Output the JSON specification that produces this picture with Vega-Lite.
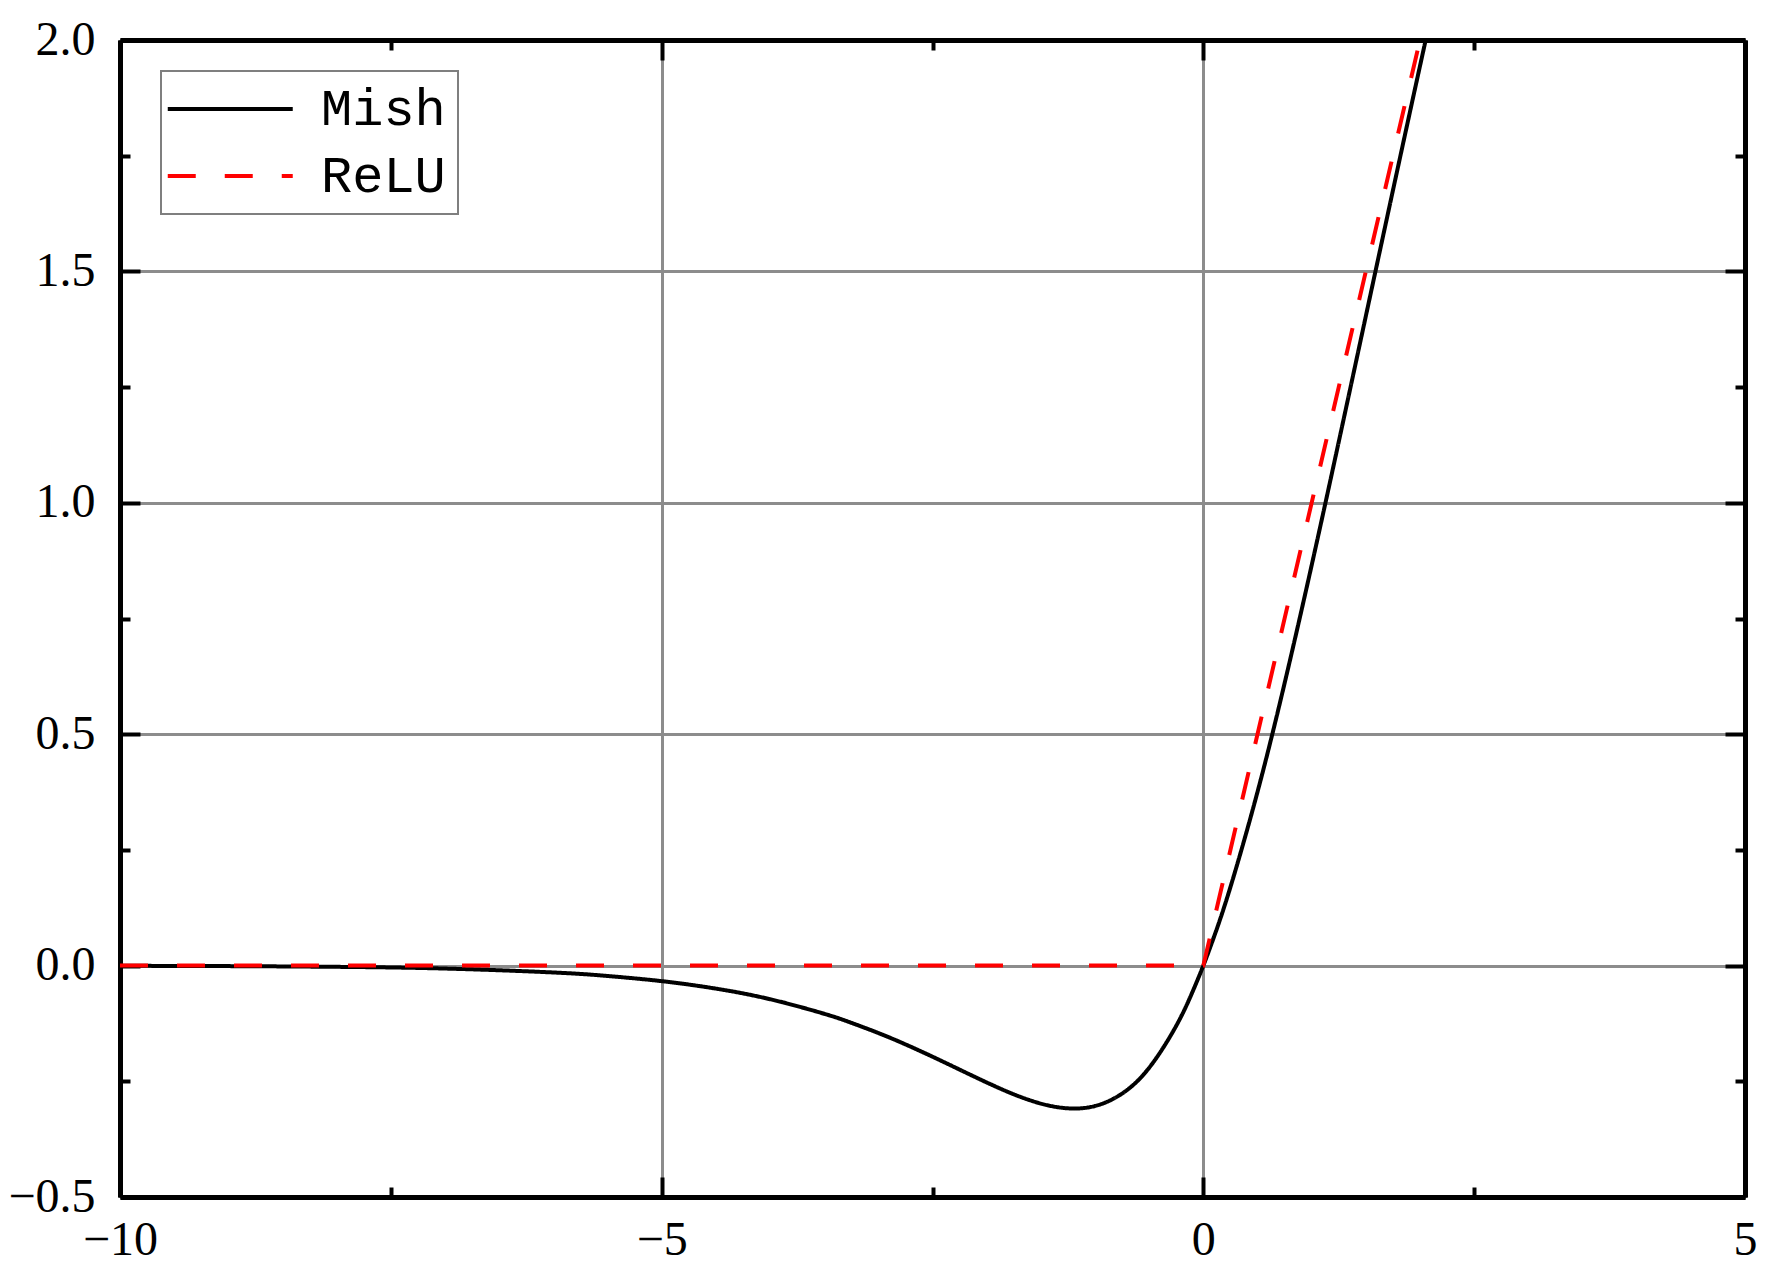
{
  "$schema": "https://vega.github.io/schema/vega-lite/v6.json",
  "width": 1625,
  "height": 1157,
  "autosize": "none",
  "padding": {"left": 120, "top": 40, "right": 32, "bottom": 79},
  "background": "white",
  "config": {
    "view": {"stroke": null},
    "axis": {
      "labelFont": "Liberation Serif",
      "labelFontSize": 48,
      "labelColor": "black",
      "labelFlush": false,
      "labelOverlap": false,
      "labelBound": false,
      "title": null,
      "domainColor": "black",
      "domainWidth": 5,
      "tickColor": "black",
      "tickWidth": 4,
      "gridColor": "#8c8c8c",
      "gridWidth": 3,
      "gridOpacity": 1
    },
    "legend": {
      "orient": "none",
      "legendX": 41,
      "legendY": 31,
      "direction": "vertical",
      "fillColor": "white",
      "strokeColor": "#7f7f7f",
      "strokeWidth": 2,
      "padding": 12,
      "symbolType": "M-2.5,0H7.5",
      "symbolSize": 625,
      "symbolStrokeWidth": 4,
      "labelFont": "Liberation Mono",
      "labelFontSize": 52,
      "labelColor": "black",
      "labelOffset": 96,
      "rowPadding": 15,
      "labelLimit": 400
    }
  },
  "datasets": {
    "mish": [
      {"x": -10, "y": -0.000454, "series": "Mish"},
      {"x": -9, "y": -0.00111, "series": "Mish"},
      {"x": -8, "y": -0.00268, "series": "Mish"},
      {"x": -7, "y": -0.00638, "series": "Mish"},
      {"x": -6, "y": -0.014854, "series": "Mish"},
      {"x": -5.5, "y": -0.022432, "series": "Mish"},
      {"x": -5, "y": -0.033577, "series": "Mish"},
      {"x": -4.5, "y": -0.049713, "series": "Mish"},
      {"x": -4, "y": -0.072591, "series": "Mish"},
      {"x": -3.5, "y": -0.104096, "series": "Mish"},
      {"x": -3.25, "y": -0.123574, "series": "Mish"},
      {"x": -3, "y": -0.145647, "series": "Mish"},
      {"x": -2.75, "y": -0.170194, "series": "Mish"},
      {"x": -2.5, "y": -0.196817, "series": "Mish"},
      {"x": -2.25, "y": -0.224712, "series": "Mish"},
      {"x": -2, "y": -0.2525, "series": "Mish"},
      {"x": -1.75, "y": -0.278017, "series": "Mish"},
      {"x": -1.5, "y": -0.2981, "series": "Mish"},
      {"x": -1.25, "y": -0.308414, "series": "Mish"},
      {"x": -1, "y": -0.303401, "series": "Mish"},
      {"x": -0.75, "y": -0.276495, "series": "Mish"},
      {"x": -0.5, "y": -0.220745, "series": "Mish"},
      {"x": -0.25, "y": -0.129927, "series": "Mish"},
      {"x": -0.1, "y": -0.056789, "series": "Mish"},
      {"x": 0, "y": 0, "series": "Mish"},
      {"x": 0.1, "y": 0.063179, "series": "Mish"},
      {"x": 0.25, "y": 0.169572, "series": "Mish"},
      {"x": 0.5, "y": 0.375245, "series": "Mish"},
      {"x": 0.75, "y": 0.610018, "series": "Mish"},
      {"x": 1, "y": 0.865098, "series": "Mish"},
      {"x": 1.25, "y": 1.13187, "series": "Mish"},
      {"x": 1.5, "y": 1.403379, "series": "Mish"},
      {"x": 1.75, "y": 1.674932, "series": "Mish"},
      {"x": 2, "y": 1.94396, "series": "Mish"},
      {"x": 2.25, "y": 2.209457, "series": "Mish"}
    ],
    "relu": [
      {"x": -10, "y": 0, "series": "ReLU"},
      {"x": 0, "y": 0, "series": "ReLU"},
      {"x": 2.5, "y": 2.5, "series": "ReLU"}
    ]
  },
  "resolve": {"axis": {"x": "independent", "y": "independent"}},
  "layer": [
    {
      "data": {"name": "mish"},
      "mark": {"type": "line", "clip": true, "strokeWidth": 4, "interpolate": "natural"},
      "encoding": {
        "x": {"field": "x", "type": "quantitative",
              "scale": {"domain": [-10, 5], "nice": false, "zero": false},
              "axis": {"orient": "bottom", "values": [-10, -5, 0, 5], "format": "d", "grid": true,
                       "tickSize": -20, "labelPadding": 39, "domain": true}},
        "y": {"field": "y", "type": "quantitative",
              "scale": {"domain": [-0.5, 2.0], "nice": false, "zero": false},
              "axis": {"orient": "left", "values": [-0.5, 0, 0.5, 1, 1.5, 2], "format": ".1f", "grid": true,
                       "tickSize": -20, "labelPadding": 45, "domain": true}},
        "color": {"field": "series", "type": "nominal",
                  "scale": {"domain": ["Mish", "ReLU"], "range": ["black", "#ff0000"]},
                  "legend": {"title": null}},
        "strokeDash": {"field": "series", "type": "nominal",
                       "scale": {"domain": ["Mish", "ReLU"], "range": [[1, 0], [28, 29]]},
                       "legend": {"title": null}}
      }
    },
    {
      "data": {"name": "relu"},
      "mark": {"type": "line", "clip": true, "strokeWidth": 4},
      "encoding": {
        "x": {"field": "x", "type": "quantitative",
              "scale": {"domain": [-10, 5], "nice": false, "zero": false},
              "axis": {"orient": "bottom", "values": [-7.5, -2.5, 2.5], "labels": false, "grid": false,
                       "tickSize": -10, "domain": false}},
        "y": {"field": "y", "type": "quantitative",
              "scale": {"domain": [-0.5, 2.0], "nice": false, "zero": false},
              "axis": {"orient": "left", "values": [-0.25, 0.25, 0.75, 1.25, 1.75], "labels": false, "grid": false,
                       "tickSize": -10, "domain": false}},
        "color": {"field": "series", "type": "nominal",
                  "scale": {"domain": ["Mish", "ReLU"], "range": ["black", "#ff0000"]},
                  "legend": {"title": null}},
        "strokeDash": {"field": "series", "type": "nominal",
                       "scale": {"domain": ["Mish", "ReLU"], "range": [[1, 0], [28, 29]]},
                       "legend": {"title": null}}
      }
    },
    {
      "data": {"name": "mish"},
      "mark": {"type": "point", "opacity": 0, "clip": true},
      "encoding": {
        "x": {"field": "x", "type": "quantitative",
              "scale": {"domain": [-10, 5], "nice": false, "zero": false},
              "axis": {"orient": "top", "values": [-10, -5, 0, 5], "labels": false, "grid": false,
                       "tickSize": -20, "domain": true}},
        "y": {"field": "y", "type": "quantitative",
              "scale": {"domain": [-0.5, 2.0], "nice": false, "zero": false},
              "axis": {"orient": "right", "values": [-0.5, 0, 0.5, 1, 1.5, 2], "labels": false, "grid": false,
                       "tickSize": -20, "domain": true}}
      }
    },
    {
      "data": {"name": "relu"},
      "mark": {"type": "point", "opacity": 0, "clip": true},
      "encoding": {
        "x": {"field": "x", "type": "quantitative",
              "scale": {"domain": [-10, 5], "nice": false, "zero": false},
              "axis": {"orient": "top", "values": [-7.5, -2.5, 2.5], "labels": false, "grid": false,
                       "tickSize": -10, "domain": false}},
        "y": {"field": "y", "type": "quantitative",
              "scale": {"domain": [-0.5, 2.0], "nice": false, "zero": false},
              "axis": {"orient": "right", "values": [-0.25, 0.25, 0.75, 1.25, 1.75], "labels": false, "grid": false,
                       "tickSize": -10, "domain": false}}
      }
    }
  ]
}
